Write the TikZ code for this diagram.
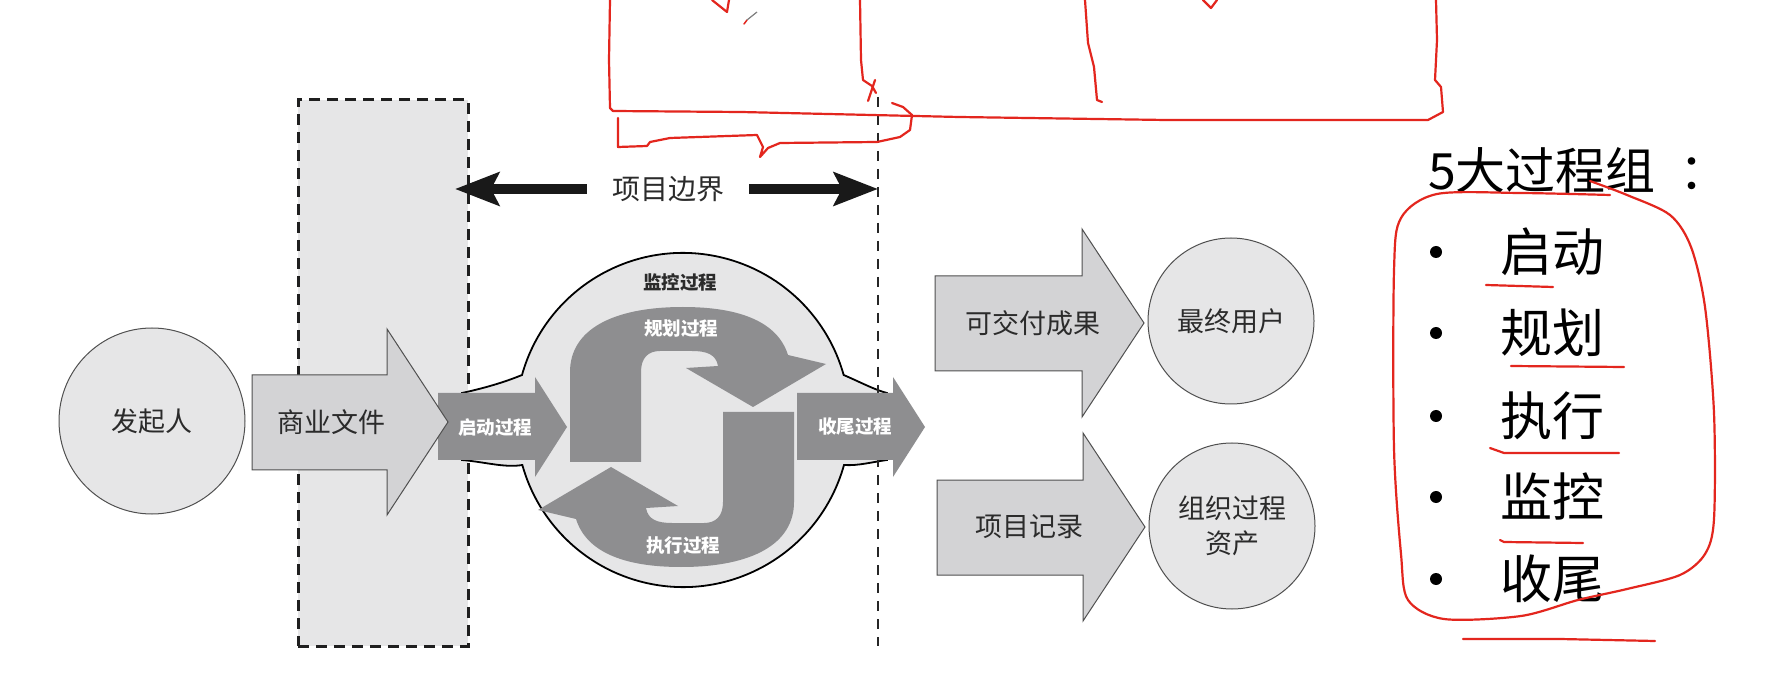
\documentclass[tikz,border=0pt]{standalone}
\usepackage{fontspec}
\setmainfont{Noto Sans CJK SC}
\usetikzlibrary{arrows.meta}
\definecolor{lightfill}{HTML}{E6E6E7}
\definecolor{arrowfill}{HTML}{D3D3D5}
\definecolor{darkarrow}{HTML}{8E8E90}
\definecolor{edgegray}{HTML}{505050}
\definecolor{penred}{HTML}{E3261E}
\definecolor{txt}{HTML}{2B2B2B}
\begin{document}
\begin{tikzpicture}[x=1pt,y=-1pt,
  blockarrow/.style={fill=arrowfill,draw=edgegray,line width=1pt,line join=miter},
  roundnode/.style={circle,fill=lightfill,draw=edgegray,line width=1pt,inner sep=0pt,align=center,text=txt,font=\fontsize{27}{35}\selectfont},
  bigtext/.style={text=txt,font=\fontsize{27}{32}\selectfont,inner sep=0pt},
  whitelabel/.style={text=white,font=\bfseries\fontsize{18.5}{20}\selectfont,inner sep=0pt},
  darklabel/.style={text=txt,font=\bfseries\fontsize{18.5}{20}\selectfont,inner sep=0pt},
  listtext/.style={anchor=west,text=black,font=\fontsize{52}{56}\selectfont,inner sep=0pt},
  bulletdot/.style={circle,fill=black,minimum size=12pt,inner sep=0pt},
  redpen/.style={draw=penred,line width=2.2pt,line cap=round,line join=round},
  bndarrow/.style={line width=10pt,draw=black!90,-{Stealth[length=44pt,width=33pt,inset=8pt]}}]
\useasboundingbox (0,0) rectangle (1765,684);
\fill[white] (0,0) rectangle (1765,684);

% project scope box (left boundary)
\node[draw=black!88,fill=lightfill,line width=3pt,dash pattern=on 11pt off 7pt,
      minimum width=170pt,minimum height=546pt,inner sep=0pt] (scopebox) at (383,373) {};

% process bulge
\draw[fill=lightfill,draw=black,line width=1.8pt]
 (462,393) .. controls (485,388) and (505,382) .. (522,375)
 arc[start angle=195.6,end angle=344.4,radius=167]
 .. controls (860,382) and (875,390) .. (887,393)
 -- (887,460)
 .. controls (872,462) and (858,466) .. (844,465)
 arc[start angle=15.6,end angle=164.4,radius=167]
 .. controls (505,468) and (485,462) .. (462,460) -- cycle;

% right boundary dashed line
\coordinate (rtop) at (878,97);
\coordinate (rbot) at (878,646);
\draw[line width=2pt,draw=black!85,dash pattern=on 10pt off 8pt] (rtop) -- (rbot);

% planning arrow (upper) and executing arrow (lower, point mirrored)
\fill[darkarrow] (570,462) -- (570,372) .. controls (570,330) and (612,307) .. (683,307)
  .. controls (742,307) and (778,323) .. (788,355) -- (826,364) -- (753,407) -- (686,368)
  -- (718,366) .. controls (716,354) and (706,351) .. (692,351) -- (660,351)
  .. controls (648,351) and (641,358) .. (641,372) -- (641,462) -- cycle;
\begin{scope}[rotate around={180:(682,437)}]
\fill[darkarrow] (570,462) -- (570,372) .. controls (570,330) and (612,307) .. (683,307)
  .. controls (742,307) and (778,323) .. (788,355) -- (826,364) -- (753,407) -- (686,368)
  -- (718,366) .. controls (716,354) and (706,351) .. (692,351) -- (660,351)
  .. controls (648,351) and (641,358) .. (641,372) -- (641,462) -- cycle;
\end{scope}
\node[whitelabel] (plan) at (681,328) {规划过程};
\node[whitelabel] (exec) at (683,546) {执行过程};
\node[darklabel] (monitor) at (680,282) {监控过程};

% initiating and closing arrows
\fill[darkarrow] (438,393) -- (535,393) -- (535,377) -- (567,427) -- (535,477) -- (535,460) -- (438,460) -- cycle;
\node[whitelabel] (init) at (495,427) {启动过程};
\fill[darkarrow] (797,393) -- (893,393) -- (893,377) -- (925,427) -- (893,477) -- (893,460) -- (797,460) -- cycle;
\node[whitelabel] (close) at (855,427) {收尾过程};

% sponsor and business documents
\node[roundnode,minimum size=186pt] (sponsor) at (152,421) {发起人};
\draw[blockarrow] (252,375) -- (387,375) -- (387,329) -- (448,422) -- (387,515) -- (387,470) -- (252,470) -- cycle;
\node[bigtext] (bizdoc) at (331,422) {商业文件};

% outputs
\draw[blockarrow] (935,276) -- (1082,276) -- (1082,229) -- (1144,323) -- (1082,417) -- (1082,371) -- (935,371) -- cycle;
\node[bigtext] (deliv) at (1033,323) {可交付成果};
\node[roundnode,minimum size=166pt] (enduser) at (1231,321) {最终用户};
\draw[blockarrow] (937,480) -- (1083,480) -- (1083,433) -- (1145,527) -- (1083,621) -- (1083,575) -- (937,575) -- cycle;
\node[bigtext] (records) at (1029,527) {项目记录};
\node[roundnode,minimum size=166pt] (opa) at (1232,526) {组织过程\\资产};

% project boundary arrow
\node[bigtext,font=\fontsize{28}{32}\selectfont] (boundary) at (668,189) {项目边界};
\coordinate (bl) at (455,189);
\coordinate (br) at (878,189);
\draw[bndarrow] ([xshift=-25pt]boundary.west) -- (bl);
\draw[bndarrow] ([xshift=25pt]boundary.east) -- (br);

% five process groups list
\node[anchor=west,text=black,font=\fontsize{50}{55}\selectfont,inner sep=0pt] (title) at (1428,170) {5大过程组\hspace{24pt}：};
\node[bulletdot] (b1) at (1436,252) {};
\node[bulletdot] (b2) at (1436,333) {};
\node[bulletdot] (b3) at (1436,416) {};
\node[bulletdot] (b4) at (1436,497) {};
\node[bulletdot] (b5) at (1436,579) {};
\node[listtext] (l1) at (1500,252) {启动};
\node[listtext] (l2) at (1500,333) {规划};
\node[listtext] (l3) at (1500,416) {执行};
\node[listtext] (l4) at (1500,497) {监控};
\node[listtext] (l5) at (1500,579) {收尾};

% red handwritten annotations
\draw[redpen] plot[smooth] coordinates {(1590,181) (1627,195) (1670,215) (1691,247) (1705,307) (1714,413) (1714,519) (1705,554) (1680,575) (1627,589) (1578,600) (1521,616) (1444,619) (1408,600) (1401,554) (1394,448) (1394,271) (1401,218) (1437,194) (1520,193) (1610,195)};
\draw[redpen] (1486,285) -- (1553,287);
\draw[redpen] (1511,366) -- (1624,367);
\draw[redpen] (1490,448) -- (1504,453) -- (1619,453);
\draw[redpen] (1500,540) -- (1504,542) -- (1583,543);
\draw[redpen] (1463,639) -- (1560,639) -- (1655,641);

\draw[redpen] (610,0) -- (609,60) -- (610,108) -- (613,111) -- (741,112) -- (959,117) -- (1166,120) -- (1428,120) -- (1443,112) -- (1441,87) -- (1435,80) -- (1437,40) -- (1436,0);
\draw[redpen] (618,118) -- (618,147) -- (647,146) -- (650,142) -- (670,138) -- (757,135) -- (763,147) -- (760,157) -- (768,148) -- (780,143) -- (877,142) -- (900,137) -- (910,130) -- (912,115) -- (903,107) -- (892,103);
\draw[redpen] (860,0) -- (861,60) -- (863,80) -- (872,86) -- (876,93);
\draw[redpen] (868,101) -- (875,80);
\draw[redpen] (1085,0) -- (1088,43) -- (1094,67) -- (1097,100) -- (1102,102);
\draw[redpen] (712,0) -- (727,12) -- (729,0);
\draw[redpen] (1203,0) -- (1211,8) -- (1217,0);
\draw[redpen,line width=1.5pt] (744,24) -- (747,20);
\draw[draw=gray,line width=1.2pt] (747,20) -- (757,12);
\end{tikzpicture}
\end{document}
